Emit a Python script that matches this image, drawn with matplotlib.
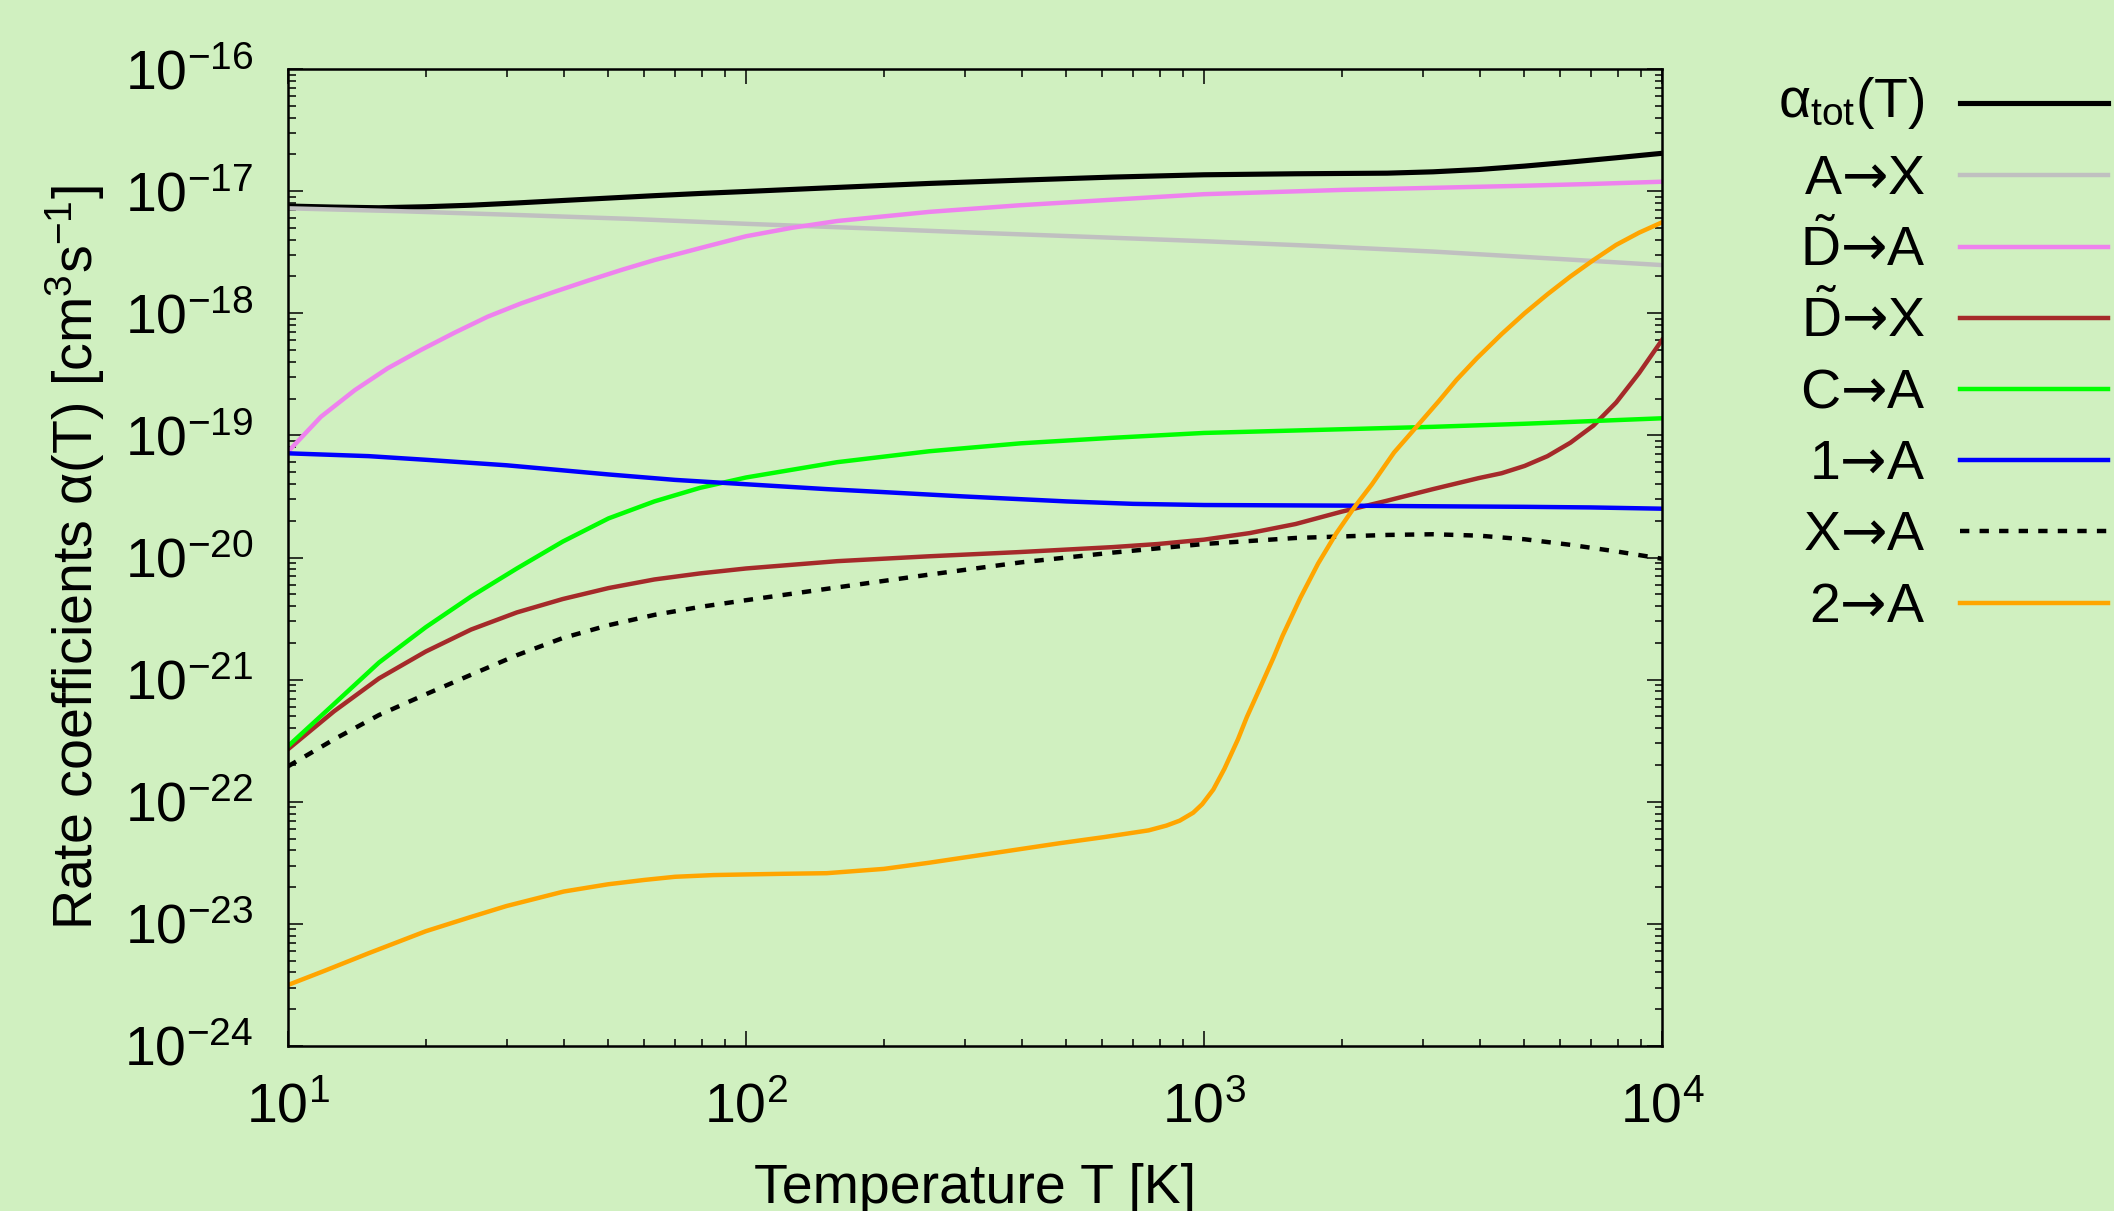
import numpy as np
import matplotlib
matplotlib.use('Agg')
import matplotlib.pyplot as plt
from matplotlib.lines import Line2D
from matplotlib.ticker import LogLocator, NullFormatter

plt.rcParams['font.family'] = ['Liberation Sans', 'DejaVu Sans']
plt.rcParams['mathtext.fontset'] = 'custom'
plt.rcParams['mathtext.rm'] = 'Liberation Sans'
plt.rcParams['mathtext.it'] = 'Liberation Sans:italic'
plt.rcParams['mathtext.bf'] = 'Liberation Sans:bold'
plt.rcParams['mathtext.sf'] = 'DejaVu Sans'

BG = '#d0f0c0'
FS = 40

# rate coefficients
T_tot = [10, 12.6, 15.8, 20, 25.1, 31.6, 39.8, 50.1, 63.1, 79.4, 100, 158, 251,
         398, 631, 1000, 1585, 2512, 3162, 3981, 5012, 6310, 7943, 10000]
a_tot = [7.55e-18, 7.40e-18, 7.31e-18, 7.45e-18, 7.67e-18, 8.00e-18, 8.38e-18,
         8.77e-18, 9.18e-18, 9.57e-18, 9.93e-18, 1.072e-17, 1.156e-17, 1.23e-17,
         1.303e-17, 1.361e-17, 1.387e-17, 1.403e-17, 1.439e-17, 1.503e-17,
         1.603e-17, 1.73e-17, 1.875e-17, 2.04e-17]

T_AX = [10, 17.8, 31.6, 56.2, 100, 178, 316, 562, 1000, 1778, 3162, 5623, 10000]
a_AX = [7.23e-18, 6.84e-18, 6.38e-18, 5.92e-18, 5.40e-18, 4.98e-18, 4.57e-18,
        4.22e-18, 3.89e-18, 3.55e-18, 3.20e-18, 2.82e-18, 2.48e-18]

T_DA = [10, 11.8, 14.0, 16.5, 19.5, 23.1, 27.3, 32.3, 38.2, 45.2, 53.4, 63.2,
        82.6, 100, 126, 158, 251, 398, 631, 1000, 2000, 3162, 5012, 7079, 10000]
a_DA = [7.35e-20, 1.42e-19, 2.35e-19, 3.54e-19, 5.00e-19, 6.93e-19, 9.38e-19,
        1.205e-18, 1.50e-18, 1.85e-18, 2.26e-18, 2.73e-18, 3.55e-18, 4.27e-18,
        5.01e-18, 5.69e-18, 6.76e-18, 7.67e-18, 8.51e-18, 9.44e-18, 1.023e-17,
        1.064e-17, 1.107e-17, 1.146e-17, 1.194e-17]

T_DX = [10, 12.6, 15.8, 20, 25.1, 31.6, 39.8, 50.1, 63.1, 79.4, 100, 158, 251,
        398, 631, 794, 1000, 1259, 1585, 1995, 2512, 3162, 3981, 4467, 5012,
        5623, 6310, 7079, 7943, 8913, 10000]
a_DX = [2.69e-22, 5.50e-22, 1.023e-21, 1.70e-21, 2.57e-21, 3.55e-21, 4.57e-21,
        5.62e-21, 6.61e-21, 7.41e-21, 8.13e-21, 9.33e-21, 1.023e-20, 1.109e-20,
        1.216e-20, 1.29e-20, 1.40e-20, 1.585e-20, 1.88e-20, 2.37e-20, 2.92e-20,
        3.63e-20, 4.47e-20, 4.90e-20, 5.62e-20, 6.76e-20, 8.71e-20, 1.20e-19,
        1.86e-19, 3.24e-19, 6.03e-19]

T_CA = [10, 12.6, 15.8, 20, 25.1, 31.6, 39.8, 50.1, 63.1, 79.4, 100, 158, 251,
        398, 631, 1000, 1995, 3162, 5012, 10000]
a_CA = [2.85e-22, 6.31e-22, 1.38e-21, 2.69e-21, 4.79e-21, 8.13e-21, 1.35e-20,
        2.09e-20, 2.88e-20, 3.72e-20, 4.52e-20, 6.03e-20, 7.41e-20, 8.61e-20,
        9.55e-20, 1.047e-19, 1.122e-19, 1.175e-19, 1.245e-19, 1.38e-19]

T_1A = [10, 15, 20, 30, 50, 70, 100, 150, 200, 300, 500, 700, 1000, 2000, 3000,
        5000, 7000, 10000]
a_1A = [7.13e-20, 6.76e-20, 6.31e-20, 5.69e-20, 4.79e-20, 4.32e-20, 3.98e-20,
        3.63e-20, 3.43e-20, 3.16e-20, 2.88e-20, 2.75e-20, 2.69e-20, 2.66e-20,
        2.63e-20, 2.60e-20, 2.57e-20, 2.51e-20]

T_XA = [10, 12.6, 15.8, 20, 25.1, 31.6, 39.8, 50.1, 63.1, 79.4, 100, 158, 251,
        398, 631, 1000, 1585, 2512, 3162, 3981, 5012, 6310, 7943, 10000]
a_XA = [1.95e-22, 3.24e-22, 5.13e-22, 7.59e-22, 1.096e-21, 1.585e-21, 2.19e-21,
        2.79e-21, 3.39e-21, 3.94e-21, 4.47e-21, 5.69e-21, 7.24e-21, 9.12e-21,
        1.096e-20, 1.29e-20, 1.445e-20, 1.53e-20, 1.55e-20, 1.51e-20, 1.41e-20,
        1.27e-20, 1.122e-20, 9.77e-21]

T_2A = [10, 12, 15, 20, 25, 30, 40, 50, 60, 70, 85, 100, 120, 150, 200, 250,
        308, 386, 483, 604, 757, 828, 885, 947, 991, 1048, 1108, 1186, 1240,
        1327, 1419, 1484, 1624, 1775, 1943, 2125, 2325, 2600, 2910, 3255, 3560,
        3940, 4467, 5012, 5623, 6310, 7079, 7943, 8913, 10000]
a_2A = [3.16e-24, 4.12e-24, 5.75e-24, 8.71e-24, 1.135e-23, 1.40e-23, 1.84e-23,
        2.11e-23, 2.29e-23, 2.43e-23, 2.51e-23, 2.54e-23, 2.57e-23, 2.60e-23,
        2.82e-23, 3.16e-23, 3.55e-23, 4.03e-23, 4.57e-23, 5.13e-23, 5.83e-23,
        6.38e-23, 7.00e-23, 8.13e-23, 9.55e-23, 1.259e-22, 1.86e-22, 3.24e-22,
        4.92e-22, 8.65e-22, 1.52e-21, 2.28e-21, 4.69e-21, 8.93e-21, 1.57e-20,
        2.55e-20, 3.96e-20, 7.24e-20, 1.175e-19, 1.905e-19, 2.85e-19, 4.27e-19,
        6.76e-19, 1.0e-18, 1.43e-18, 2.0e-18, 2.72e-18, 3.63e-18, 4.57e-18,
        5.55e-18]

ARR = r'$\mathsf{→}$'
labels = [r'α$_{\mathrm{tot}}$(T)', 'A' + ARR + 'X', r'$\tilde{\mathrm{D}}$' + ARR + 'A',
          r'$\tilde{\mathrm{D}}$' + ARR + 'X', 'C' + ARR + 'A', '1' + ARR + 'A',
          'X' + ARR + 'A', '2' + ARR + 'A']
colors = ['black', '#c0c0c0', '#ee82ee', '#a52a2a', '#00ff00', '#0000ff',
          'black', '#ffa500']
dashed = [False, False, False, False, False, False, True, False]
series = [(T_tot, a_tot), (T_AX, a_AX), (T_DA, a_DA), (T_DX, a_DX),
          (T_CA, a_CA), (T_1A, a_1A), (T_XA, a_XA), (T_2A, a_2A)]

W, H = 2114, 1211
fig = plt.figure(figsize=(W / 100, H / 100), dpi=100, facecolor=BG)
ax = fig.add_axes([288 / W, 1 - 1046 / H, 1374 / W, 977 / H], facecolor=BG)

LW = 3.2
DASH = (0, (2.1, 2.3))
for (t, a), c, d in zip(series, colors, dashed):
    lw = 3.7 if (c == 'black' and not d) else LW
    ax.plot(t, a, color=c, lw=lw, ls=DASH if d else '-')

ax.set_xscale('log')
ax.set_yscale('log')
ax.set_xlim(10, 1e4)
ax.set_ylim(1e-24, 1e-16)
ax.yaxis.set_major_locator(LogLocator(base=10, numticks=20))
ax.yaxis.set_minor_locator(LogLocator(base=10, subs=np.arange(2, 10), numticks=100))
ax.yaxis.set_minor_formatter(NullFormatter())
ax.xaxis.set_minor_formatter(NullFormatter())

for s in ax.spines.values():
    s.set_linewidth(1.8)
ax.tick_params(which='both', direction='in', top=True, right=True,
               labelsize=FS, width=1.1)
ax.tick_params(which='major', length=10.8)
ax.tick_params(which='minor', length=5.4)
ax.tick_params(axis='y', which='major', pad=25)
ax.tick_params(axis='x', which='major', pad=26)

ax.set_xlabel('Temperature T [K]', fontsize=FS)
ax.xaxis.label.set_va('baseline')
ax.xaxis.set_label_coords(0.5, (8 - 165) / 977)
ax.set_ylabel('Rate coefficients α(T) [cm$^3$s$^{-1}$]', fontsize=FS)
ax.yaxis.label.set_va('baseline')
ax.yaxis.set_label_coords((93 - 288) / 1374, 0.5)

# key on the right
row_y = [103, 175, 247, 318, 389, 460, 531, 603]
base_off = [14, 19, 19, 19, 19, 19, 19, 19]
for lab, c, d, y, off in zip(labels, colors, dashed, row_y, base_off):
    fig.text(1925 / W, 1 - (y + off) / H, lab, fontsize=FS, ha='right',
             va='baseline')
    lw = 3.7 if (c == 'black' and not d) else LW
    fig.add_artist(Line2D([1960 / W, 2108 / W], [1 - y / H, 1 - y / H],
                          transform=fig.transFigure, color=c, lw=lw,
                          ls=DASH if d else '-'))

fig.savefig('out.png', dpi=100, facecolor=BG)
